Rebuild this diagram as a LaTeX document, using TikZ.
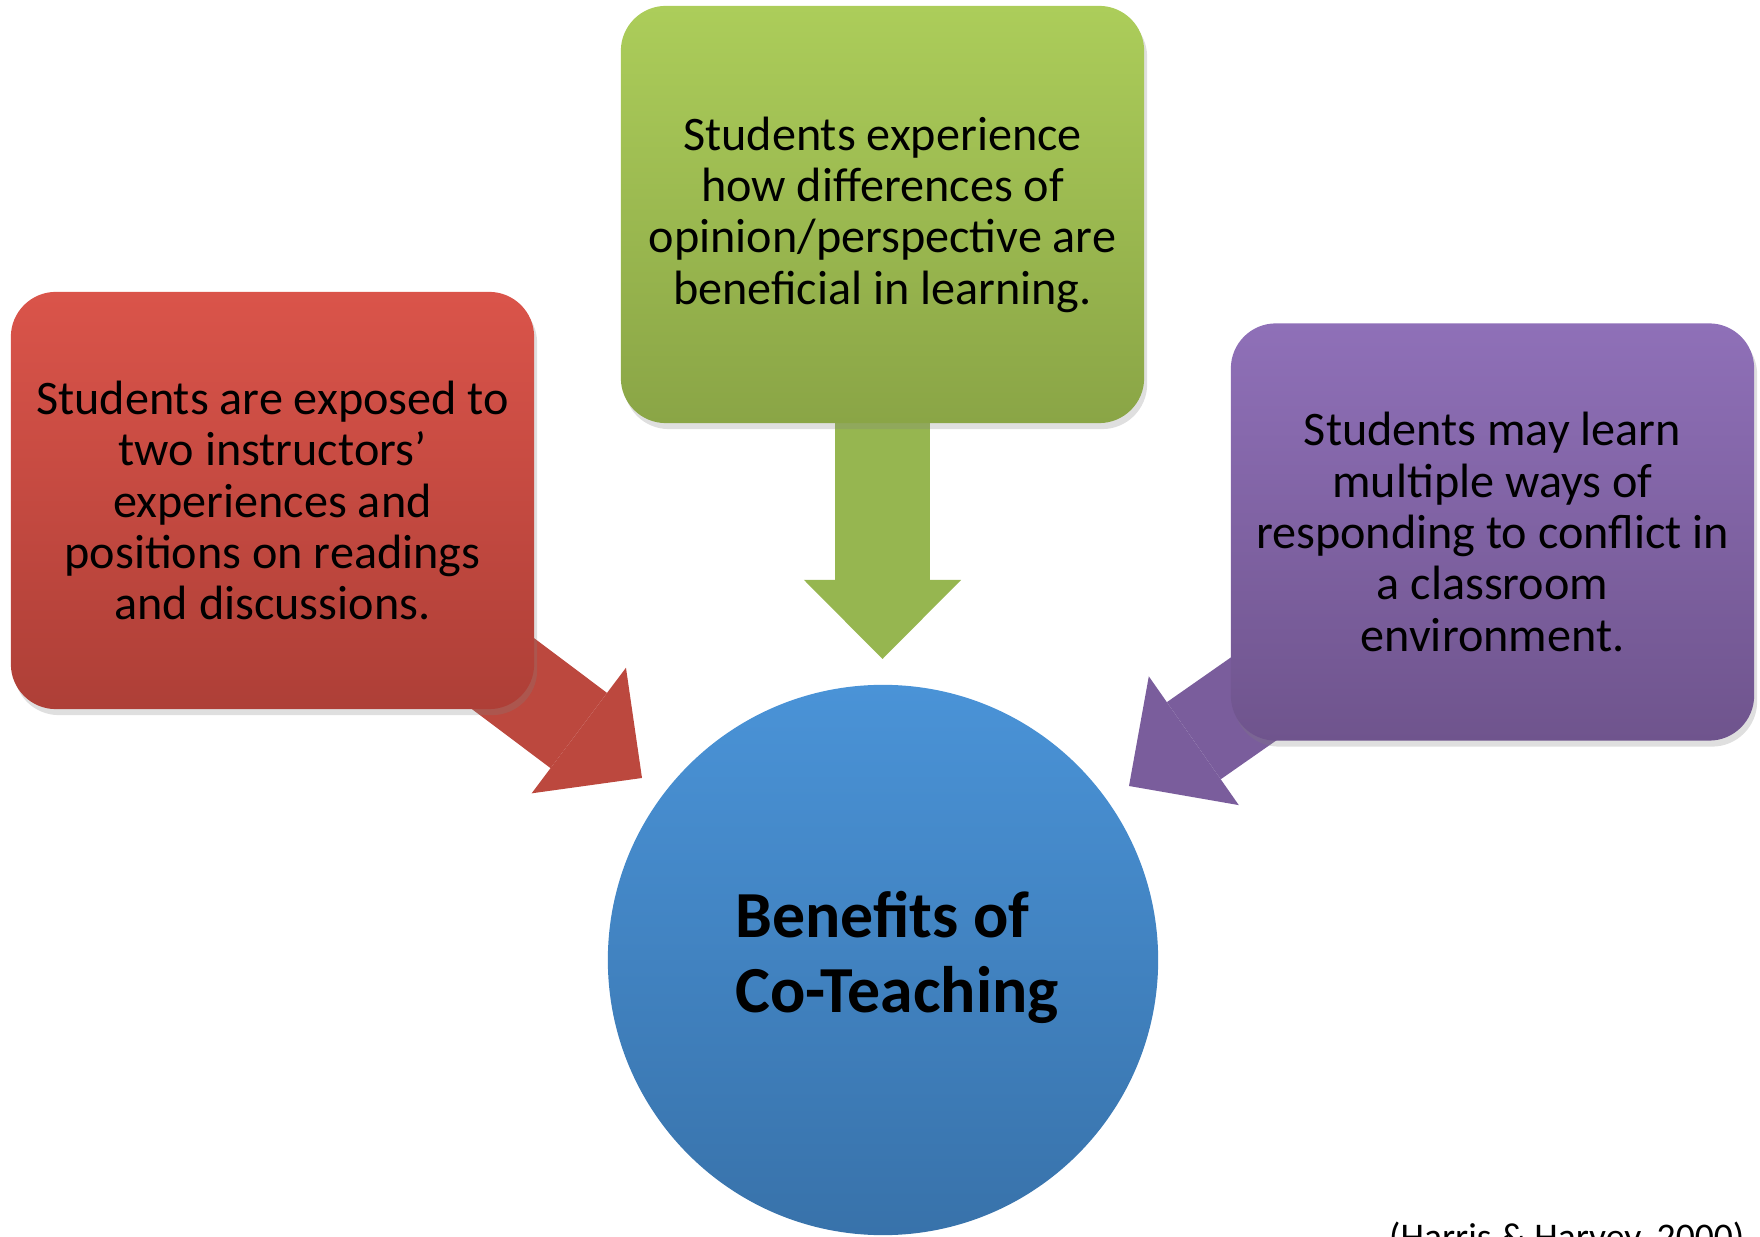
\documentclass[tikz,border=0pt]{standalone}
\usepackage{fontspec}
\setmainfont{Carlito}
\usetikzlibrary{arrows.meta,shadows}
\usepackage{xcolor}
\definecolor{redtop}{RGB}{218,84,74}
\definecolor{redbot}{RGB}{174,63,55}
\definecolor{redarrow}{RGB}{188,72,62}
\definecolor{greentop}{RGB}{172,205,90}
\definecolor{greenbot}{RGB}{138,165,70}
\definecolor{greenarrow}{RGB}{150,182,80}
\definecolor{purpletop}{RGB}{143,112,184}
\definecolor{purplebot}{RGB}{111,84,141}
\definecolor{purplearrow}{RGB}{122,93,156}
\definecolor{bluetop}{RGB}{74,147,215}
\definecolor{bluebot}{RGB}{56,114,170}

\begin{document}
\begin{tikzpicture}[x=0.01cm,y=-0.01cm,
		box/.style={rectangle,rounded corners=0.45cm,minimum width=5.23cm,minimum height=4.17cm,
			align=center,font=\fontsize{13.7}{14.6}\selectfont,
			drop shadow={opacity=0.25,shadow xshift=0.03cm,shadow yshift=-0.06cm}},
		blockarrow/.style={line width=0.94cm,-{Triangle[length=0.79cm,width=1.57cm,line width=0pt]}}]
		\useasboundingbox (0,0) rectangle (1760,1237);
		% tips of the three block arrows
		\coordinate (rtip) at (642,778);
		\coordinate (gtip) at (882.5,659);
		\coordinate (ptip) at (1129,786);
		\draw[blockarrow,redarrow] (272.5,500.5) -- (rtip);
		\draw[blockarrow,greenarrow] (882.5,214.5) -- (gtip);
		\draw[blockarrow,purplearrow] (1492.5,532) -- (ptip);
		% boxes
		\node[box,top color=redtop,bottom color=redbot] (rbox) at (272.5,500.5)
		{Students are exposed to\\two instructors’\\experiences and\\positions on readings\\and discussions.};
		\node[box,top color=greentop,bottom color=greenbot] (gbox) at (882.5,214.5)
		{Students experience\\how differences of\\opinion/perspective are\\beneficial in learning.};
		\node[box,top color=purpletop,bottom color=purplebot] (pbox) at (1492.5,532)
		{Students may learn\\multiple ways of\\responding to conflict in\\a classroom\\environment.};
		% centre
		\node[circle,minimum size=5.5cm,inner sep=0pt,top color=bluetop,bottom color=bluebot] (benefits) at (883,960) {};
		\node[align=left,font=\fontsize{18.7}{21.3}\selectfont\bfseries,anchor=center] (title) at (897,957)
		{Benefits of\\Co-Teaching};
		\node[anchor=north east,inner sep=0pt,font=\fontsize{10.7}{13}\selectfont] (cite) at (1745,1221) {(Harris \& Harvey, 2000)};
\end{tikzpicture}
\end{document}
